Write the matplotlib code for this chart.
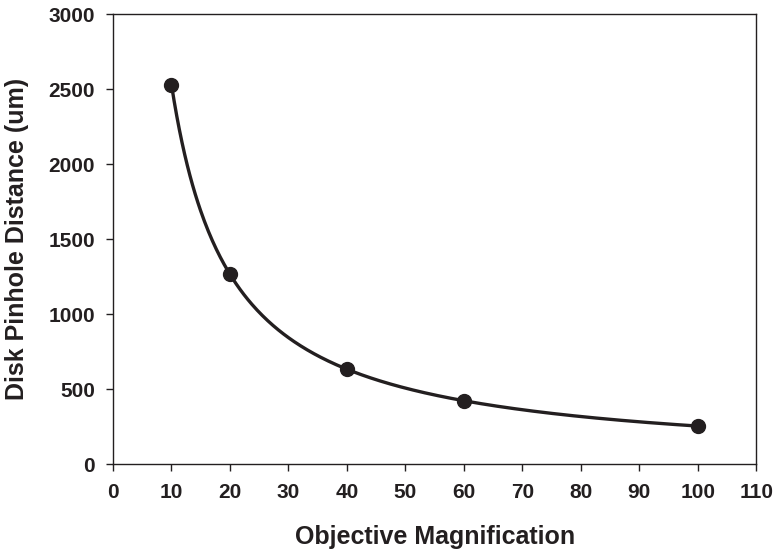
import numpy as np
import matplotlib
matplotlib.use("Agg")
import matplotlib.pyplot as plt

# data
magnification = [10, 20, 40, 60, 100]
pinhole_um = [2530, 1265, 632, 422, 253]

x_ticks = list(range(0, 111, 10))
y_ticks = list(range(0, 3001, 500))

INK = "#231f20"


def natural_spline(x, y, xs):
    """Natural cubic spline through (x, y), evaluated at xs."""
    x = np.asarray(x, float)
    y = np.asarray(y, float)
    n = len(x)
    h = np.diff(x)
    A = np.zeros((n, n))
    b = np.zeros(n)
    A[0, 0] = A[-1, -1] = 1.0
    for i in range(1, n - 1):
        A[i, i - 1] = h[i - 1]
        A[i, i] = 2 * (h[i - 1] + h[i])
        A[i, i + 1] = h[i]
        b[i] = 3 * ((y[i + 1] - y[i]) / h[i] - (y[i] - y[i - 1]) / h[i - 1])
    c = np.linalg.solve(A, b)
    out = np.empty_like(xs)
    for k, xv in enumerate(xs):
        i = min(max(np.searchsorted(x, xv) - 1, 0), n - 2)
        dx = xv - x[i]
        bi = (y[i + 1] - y[i]) / h[i] - h[i] * (2 * c[i] + c[i + 1]) / 3
        di = (c[i + 1] - c[i]) / (3 * h[i])
        out[k] = y[i] + bi * dx + c[i] * dx ** 2 + di * dx ** 3
    return out


plt.rcParams["font.family"] = ["Liberation Sans", "DejaVu Sans"]
plt.rcParams["font.weight"] = "bold"

fig = plt.figure(figsize=(7.76, 5.52), dpi=100)
ax = fig.add_axes([0.1456, 0.1594, 0.829, 0.8152])

# smooth curve: spline in log-log space so it stays convex between points
xs = np.linspace(magnification[0], magnification[-1], 400)
ys = np.exp(natural_spline(np.log(magnification), np.log(pinhole_um), np.log(xs)))
ax.plot(xs, ys, color=INK, lw=2.4, solid_capstyle="round", zorder=2)
ax.plot(magnification, pinhole_um, "o", color=INK, ms=10, zorder=3)

ax.set_xlim(0, 110)
ax.set_ylim(0, 3000)
ax.set_xticks(x_ticks)
ax.set_yticks(y_ticks)
ax.tick_params(direction="out", length=5, width=1, colors=INK, labelsize=15)
ax.tick_params(axis="x", pad=9)
ax.tick_params(axis="y", pad=8)
for lab in ax.get_xticklabels() + ax.get_yticklabels():
    lab.set_fontweight("bold")
for sp in ax.spines.values():
    sp.set_color(INK)
    sp.set_linewidth(1)

ax.set_xlabel("Objective Magnification", fontsize=18, fontweight="bold",
              labelpad=16, color=INK)
ax.set_ylabel("Disk Pinhole Distance (um)", fontsize=18, fontweight="bold",
              labelpad=14, color=INK)

fig.savefig("out.png", dpi=100)
